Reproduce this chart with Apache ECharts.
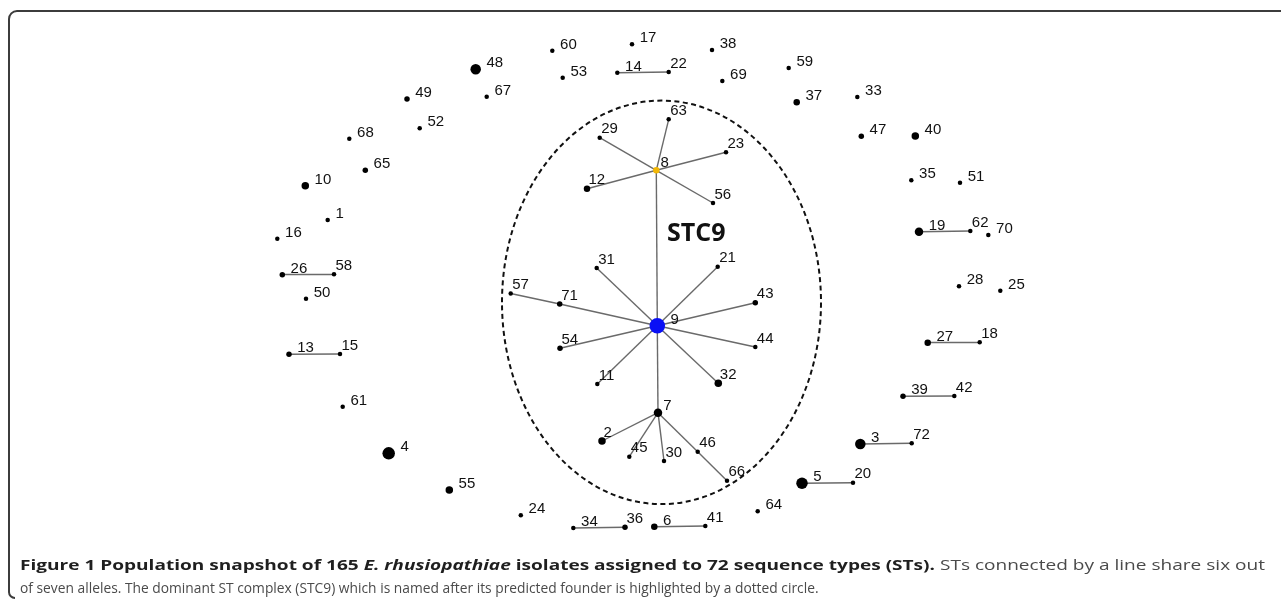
<!DOCTYPE html>
<html>
<head>
<meta charset="utf-8">
<script src="https://cdn.jsdelivr.net/npm/echarts/dist/echarts.min.js"></script>
<style>
html,body{margin:0;padding:0;background:#fff;}
#c{width:1281px;height:603px;}
</style>
</head>
<body>
<div id="c"></div>
<script>
// ---- Data ----
const stIds = ['1','2','3','4','5','6','7','8','9','10','11','12','13','14','15','16','17','18','19','20','21','22','23','24','25','26','27','28','29','30','31','32','33','34','35','36','37','38','39','40','41','42','43','44','45','46','47','48','49','50','51','52','53','54','55','56','57','58','59','60','61','62','63','64','65','66','67','68','69','70','71','72'];
const stX = [327.7,602,860.3,388.7,802,654.3,658,656.3,657.3,305.3,597.3,587,289,617.3,340,277.3,632,979.7,919,853,717.7,668.7,726,520.8,1000.3,282.3,927.7,959,599.7,664,596.7,718.3,857.3,573.3,911.3,625,796.7,712,903,915.3,705.3,954.3,755.3,755.3,629.3,697.7,861.3,475.7,407,306,960,419.7,562.7,560,449.3,713,510.7,334,788.7,552.3,342.7,970.3,668.7,757.7,365.3,727,486.7,349.3,722.3,988.3,559.7,911.7];
const stY = [220,441,444,453.3,483.3,526.7,412.7,170.3,325.7,185.7,384,188.7,354.3,72.7,354,238.7,44.3,342.3,231.7,482.8,266.7,72,152.3,515.3,290.7,274.7,342.7,286.2,137.7,461,268,383.3,97,528,180.3,527.3,102.3,50,396.3,136,526,396,302.7,347,456.7,451.7,136.3,69.3,99,298.7,182.7,128.3,77.7,348.3,490,203,293.5,274.3,68,50.7,406.7,231,119.3,511.2,170.3,480.8,96.7,138.7,81,235,304,443.3];
const isolates = [1,4,7,9,8,3,5,3,12,4,1,3,2,1,1,1,1,1,5,1,1,1,1,1,1,2,3,1,1,1,1,4,1,1,1,2,3,1,2,4,1,1,2,1,1,1,2,7,2,1,1,1,1,2,4,1,1,1,1,1,1,1,1,1,2,1,1,1,1,1,2,1];
const linkFrom = ['14','26','13','19','27','39','3','5','34','6','8','8','8','8','8','8','9','9','9','71','9','9','9','9','9','9','7','7','7','7','46'];
const linkTo   = ['22','58','15','62','18','42','72','20','36','41','63','29','23','12','56','9','31','21','71','57','43','44','54','11','32','7','2','45','30','46','66'];
const founder = '9';
const subFounder = '8';
const complexName = 'STC9';
const captionBold = 'Figure 1 Population snapshot of 165 ';
const captionItalic = 'E. rhusiopathiae';
const captionBold2 = ' isolates assigned to 72 sequence types (STs).';
const captionReg1 = ' STs connected by a line share six out';
const captionReg2 = 'of seven alleles. The dominant ST complex (STC9) which is named after its predicted founder is highlighted by a dotted circle.';

// ---- Styling helpers ----
const sizeOf = c => 3.5 + c;
const aboveLabel = new Set(['22','58','15','62','18','42','72','20','36','41','63','29','23','12','56','31','21','57','71','43','44','54','11','32','2','45','30','46','66']);
const nearLabel = new Set(['7','8']);

const nodes = stIds.map((id, i) => {
  const s = sizeOf(isolates[i]);
  let off;
  if (aboveLabel.has(id)) off = [1.5, -8.5];
  else if (nearLabel.has(id)) off = [s / 2 + 1, -7];
  else off = [s / 2 + 5.5, -6];
  return {
    name: id,
    value: [stX[i], stY[i]],
    symbolSize: s,
    itemStyle: { color: id === founder ? '#0a10f5' : (id === subFounder ? '#f2b705' : '#000000') },
    label: { offset: off }
  };
});
const links = linkFrom.map((f, i) => ({ source: f, target: linkTo[i] }));

const chart = echarts.init(document.getElementById('c'), null, { renderer: 'canvas' });
chart.setOption({
  animation: false,
  backgroundColor: '#ffffff',
  grid: { left: 0, right: 0, top: 0, bottom: 0, containLabel: false },
  xAxis: { type: 'value', min: 0, max: 1281, show: false },
  yAxis: { type: 'value', min: 0, max: 603, inverse: true, show: false },
  series: [{
    type: 'graph',
    coordinateSystem: 'cartesian2d',
    layout: 'none',
    symbol: 'circle',
    data: nodes,
    links: links,
    lineStyle: { color: '#6a6a6a', width: 1.4, opacity: 1, curveness: 0 },
    label: {
      show: true, position: 'inside', align: 'left', verticalAlign: 'middle',
      formatter: '{b}', fontSize: 15, fontFamily: 'Liberation Sans, Arial, sans-serif', color: '#111'
    },
    emphasis: { disabled: true },
    z: 3
  }]
});

// ---- Complex outline derived from the founder's connected component ----
const adj = {};
linkFrom.forEach((f, i) => {
  (adj[f] = adj[f] || []).push(linkTo[i]);
  (adj[linkTo[i]] = adj[linkTo[i]] || []).push(f);
});
const seen = new Set([founder]);
const queue = [founder];
while (queue.length) { const n = queue.shift(); (adj[n] || []).forEach(m => { if (!seen.has(m)) { seen.add(m); queue.push(m); } }); }
const idx = id => stIds.indexOf(id);
let minX = Infinity, minY = Infinity, maxY = -Infinity;
seen.forEach(id => { const i = idx(id); minX = Math.min(minX, stX[i]); minY = Math.min(minY, stY[i]); maxY = Math.max(maxY, stY[i]); });
const fx = stX[idx(founder)], fy = stY[idx(founder)];
const cPix = chart.convertToPixel({ gridIndex: 0 }, [fx + 4.2, (minY + maxY) / 2 + 2.3]);
const rxPix = chart.convertToPixel({ gridIndex: 0 }, [fx + 4.2 + (fx - minX) + 12.9, 0])[0] - cPix[0];
const ryPix = chart.convertToPixel({ gridIndex: 0 }, [0, (minY + maxY) / 2 + 2.3 + (maxY - minY) / 2 + 21])[1] - cPix[1];
const labPix = chart.convertToPixel({ gridIndex: 0 }, [fx + 39, fy - 92]);

// ---- Caption layout: first line stretched to the full text width ----
const mctx = document.createElement('canvas').getContext('2d');
const meas = (t, font) => { mctx.font = font; return mctx.measureText(t).width; };
const capLeft = 20, capRight = 1265;
const natural1 = meas(captionBold + captionBold2, 'bold 15px "Open Sans"') +
                 meas(captionItalic, 'italic bold 15px "Open Sans"') +
                 meas(captionReg1, '15px "Open Sans"');
const stretch1 = (capRight - capLeft) / natural1;

chart.setOption({
  graphic: [
    { type: 'ellipse', shape: { cx: cPix[0], cy: cPix[1], rx: rxPix, ry: ryPix }, z: 1,
      style: { fill: null, stroke: '#111', lineWidth: 2, lineDash: [5, 3.5] } },
    { type: 'text', x: labPix[0], y: labPix[1], z: 5,
      style: { text: complexName, fontSize: 25, fontWeight: 'bold', fontFamily: 'Open Sans, Liberation Sans, sans-serif', fill: '#111', align: 'center', verticalAlign: 'middle' } },
    // frame
    { type: 'line', shape: { x1: 17, y1: 11, x2: 1285, y2: 11 }, style: { stroke: '#3c3c3c', lineWidth: 2 } },
    { type: 'arc', shape: { cx: 17, cy: 19, r: 8, startAngle: Math.PI, endAngle: Math.PI * 1.5 }, style: { stroke: '#3c3c3c', lineWidth: 2, fill: null } },
    { type: 'line', shape: { x1: 9, y1: 19, x2: 9, y2: 592 }, style: { stroke: '#3c3c3c', lineWidth: 2 } },
    { type: 'arc', shape: { cx: 15, cy: 592, r: 6, startAngle: Math.PI * 0.5, endAngle: Math.PI }, style: { stroke: '#3c3c3c', lineWidth: 2, fill: null } },
    // caption
    { type: 'text', x: capLeft, y: 566, scaleX: stretch1, z: 5,
      style: {
        text: '{b|' + captionBold + '}{bi|' + captionItalic + '}{b|' + captionBold2 + '}{r|' + captionReg1 + '}',
        verticalAlign: 'middle', align: 'left',
        rich: {
          b: { fontSize: 15, fontWeight: 'bold', fontFamily: 'Open Sans', fill: '#1f1f1f' },
          bi: { fontSize: 15, fontWeight: 'bold', fontStyle: 'italic', fontFamily: 'Open Sans', fill: '#1f1f1f' },
          r: { fontSize: 15, fontFamily: 'Open Sans', fill: '#4a4a4a' }
        }
      } },
    { type: 'text', x: capLeft, y: 589, scaleX: 0.92, z: 5,
      style: { text: captionReg2, fontSize: 15, fontFamily: 'Open Sans', fill: '#4a4a4a', verticalAlign: 'middle', align: 'left' } }
  ]
});
</script>
</body>
</html>
